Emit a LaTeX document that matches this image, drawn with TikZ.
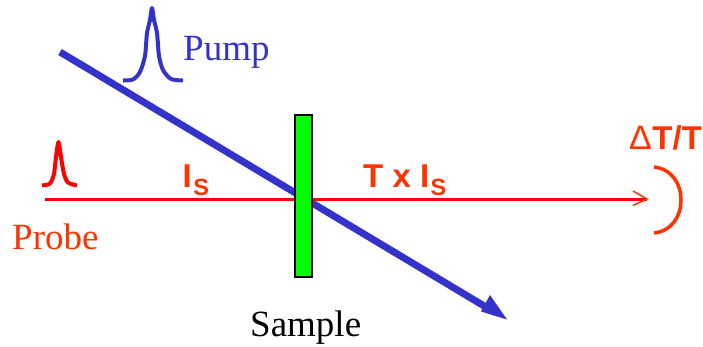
\documentclass[tikz,border=0pt]{standalone}
\usepackage{fontspec}
\setmainfont{Liberation Serif}
\setsansfont{Liberation Sans}
\definecolor{pumpblue}{RGB}{51,51,204}
\definecolor{probered}{RGB}{255,0,0}
\definecolor{labelred}{RGB}{255,51,0}
\definecolor{samplegreen}{RGB}{0,255,0}
\tikzset{
  x=1pt,y=-1pt,
  serifblue/.style={text=pumpblue,font=\fontsize{37}{40}\selectfont,inner sep=0pt},
  seriflabel/.style={font=\fontsize{37}{40}\selectfont,inner sep=0pt},
  boldlabel/.style={text=labelred,font=\sffamily\bfseries\fontsize{33}{36}\selectfont,inner sep=0pt},
  pulseblue/.style={draw=pumpblue,line width=4pt,line join=round},
  pulsered/.style={draw=probered,line width=4pt,line join=round},
}
\newcommand{\subS}{\kern1.5pt\raisebox{-8pt}{\fontsize{23.5}{25}\selectfont S}}
\begin{document}
\begin{tikzpicture}
\useasboundingbox (0,0) rectangle (703,346);
\coordinate (pumpstart) at (60,52);
\coordinate (pumpend) at (495,312.5);
\coordinate (pumptip) at (507,319.5);
\coordinate (barbA) at (490,295);
\coordinate (barbB) at (481,311.5);
\coordinate (probestart) at (45,199);
\coordinate (probetip) at (647,199);
\coordinate (headA) at (633,191);
\coordinate (headB) at (633,205.5);
\coordinate (detA) at (654,167);
\coordinate (detB) at (654,233);
% beams
\draw[pumpblue,line width=7pt] (pumpstart) -- (pumpend);
\fill[pumpblue] (pumptip) -- (barbA) -- (barbB) -- cycle;
\draw[probered,line width=3pt] (probestart) -- (probetip);
\draw[labelred,line width=1.5pt] (headA) -- (probetip) -- (headB);
% sample
\node[draw=black,line width=2pt,fill=samplegreen,outer sep=0pt,minimum width=17.4pt,minimum height=162.2pt,inner sep=0pt,anchor=north west] (sample) at (295,114.5) {};
% detector
\draw[labelred,line width=3.5pt] (detA) .. controls (672,169) and (681,184) .. (681,200) .. controls (681,216) and (672,231) .. (detB);
% pulses
\draw[pulseblue] plot[smooth,tension=0.45] coordinates {(123,80.5) (133,79.5) (140,72) (145,56) (147,33) (150,20) (152,8) (154,20) (157,33) (159,56) (163,70) (171,79) (183,80.5)};
\draw[pulsered] plot[smooth,tension=0.45] coordinates {(42,185.5) (50,183.5) (54,174) (56,157) (58.5,142) (61,157) (64,174) (68,182.5) (77,185.5)};
% labels
\node[serifblue,anchor=base west] (pump) at (183,60) {Pump};
\node[seriflabel,text=labelred,anchor=base west] (probe) at (12,249) {Probe};
\node[seriflabel,text=black,anchor=base west] (samplelabel) at (250,336) {Sample};
\node[boldlabel,anchor=base west] (is) at (182.5,187) {I\subS};
\node[boldlabel,anchor=base west] (txis) at (363,187) {T x I\subS};
\node[boldlabel,anchor=base west] (dtt) at (629,149) {{\mdseries\fontsize{34}{36}\selectfont Δ}\kern0.5pt T/T};
\end{tikzpicture}
\end{document}
